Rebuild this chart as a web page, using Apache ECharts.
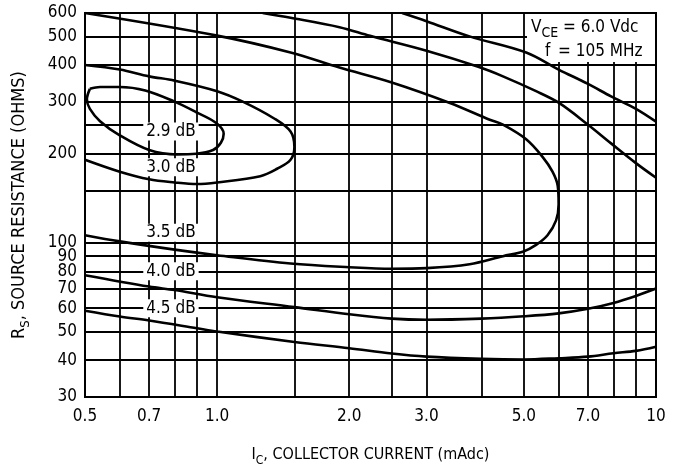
<!DOCTYPE html>
<html><head><meta charset="utf-8">
<script src="https://cdn.jsdelivr.net/npm/echarts@6/dist/echarts.min.js"></script>
<style>html,body{margin:0;padding:0;background:#fff}#c{width:674px;height:472px}</style>
</head><body><div id="c"></div>
<script>
const FONT = "'Liberation Sans Narrow','DejaVu Sans Condensed','Arial Narrow',sans-serif";

// axis ticks and grid lines
const xTicks = [0.5, 0.7, 1, 2, 3, 5, 7, 10];
const xTickLabels = ['0.5', '0.7', '1.0', '2.0', '3.0', '5.0', '7.0', '10'];
const yTicks = [30, 40, 50, 60, 70, 80, 90, 100, 200, 300, 400, 500, 600];
const yTickLabels = ['30', '40', '50', '60', '70', '80', '90', '100', '200', '300', '400', '500', '600'];
const xGrid = [0.6, 0.7, 0.8, 0.9, 1, 1.5, 2, 2.5, 3, 4, 5, 6, 7, 8, 9];
const yGrid = [40, 50, 60, 70, 80, 90, 100, 150, 200, 250, 300, 400, 500];

// noise figure contours: Ic (mAdc) vs Rs (ohms)
const c29X = [0.513, 0.541, 0.6, 0.686, 0.798, 0.895, 0.997, 1.035, 1.02, 0.979, 0.895, 0.81, 0.7, 0.6, 0.541, 0.513, 0.505, 0.513];
const c29Y = [332, 337, 337, 328, 301, 277, 254, 234, 218, 206, 200, 199, 206, 231, 258, 284, 306, 332];

const c30X = [0.5, 0.6, 0.7, 0.8, 1.0, 1.147, 1.346, 1.47, 1.5, 1.47, 1.37, 1.254, 1.0, 0.9, 0.8, 0.7, 0.6, 0.5];
const c30Y = [400, 386, 366, 354, 326, 300, 264, 238, 211, 191, 178, 168, 160, 158, 160, 164, 174, 191];

const c35X = [0.5, 1.0, 1.47, 1.9, 2.5, 3.38, 4.18, 4.48, 5.06, 5.52, 5.81, 5.97, 6.0, 5.92, 5.66, 5.33, 4.99, 4.48, 3.76, 3.0, 2.5, 2.0, 1.47, 1.0, 0.8, 0.6, 0.5];
const c35Y = [600, 503, 441, 392, 349, 298, 261, 251, 224, 195, 174, 156, 135, 119, 106, 98.3, 93.4, 90, 84.5, 82, 81.6, 82.6, 85, 90.7, 94.7, 101, 106];

const c40UpX = [1.27, 1.47, 1.9, 2.23, 3.0, 3.92, 4.48, 5.33, 6.0, 7.0, 7.9, 9.0, 10];
const c40UpY = [600, 578, 537, 502, 447, 395, 366, 326, 298, 251, 217, 186, 166];
const c40LoX = [0.5, 0.7, 0.8, 1.0, 1.5, 2.0, 2.5, 3.0, 4.0, 5.0, 6.0, 7.0, 8.0, 9.0, 10];
const c40LoY = [77.6, 71, 69.1, 65.3, 60.5, 57.2, 55.3, 54.8, 55.3, 56.3, 57.6, 59.7, 62.5, 66, 69.9];

const c45UpX = [2.64, 3.0, 3.76, 5.06, 6.0, 7.0, 7.9, 9.0, 10];
const c45UpY = [600, 563, 500, 441, 386, 345, 313, 284, 257];
const c45LoX = [0.5, 0.6, 0.7, 0.9, 1.0, 1.5, 2.0, 2.5, 3.0, 4.0, 5.0, 6.0, 7.0, 8.0, 9.0, 10];
const c45LoY = [58.8, 56.2, 54.5, 51.3, 50, 46.1, 43.9, 42.1, 41.1, 40.4, 40.2, 40.6, 41.1, 42.2, 43, 44.4];

// curve labels
const labelText = ['2.9 dB', '3.0 dB', '3.5 dB', '4.0 dB', '4.5 dB'];
const labelX = [0.785, 0.785, 0.785, 0.785, 0.785];
const labelY = [238, 180, 108, 80, 60];

const zip = (xs, ys) => xs.map((x, i) => [x, ys[i]]);
const pick = (ticks, labels) => v => {
  for (let i = 0; i < ticks.length; i++) if (Math.abs(Math.log(v / ticks[i])) < 1e-6) return labels[i];
  return '';
};

const curve = (name, xs, ys, extra) => Object.assign({
  name, type: 'line', data: zip(xs, ys), showSymbol: false, symbol: 'none',
  smooth: 0.35, clip: true, silent: true, animation: false, z: 3,
  lineStyle: { color: '#000', width: 2.6 }
}, extra || {});

const chart = echarts.init(document.getElementById('c'), null, { renderer: 'canvas' });
chart.setOption({
  backgroundColor: '#fff',
  animation: false,
  textStyle: { fontFamily: FONT },
  grid: { left: 85, right: 18, top: 13, bottom: 72, show: true, borderColor: '#000', borderWidth: 2, backgroundColor: 'transparent' },
  xAxis: {
    type: 'log', logBase: 10, min: 0.5, max: 10,
    axisLine: { show: true, lineStyle: { color: '#000', width: 2 } },
    axisTick: { show: false },
    splitLine: { show: false },
    axisLabel: { customValues: xTicks, formatter: pick(xTicks, xTickLabels), color: '#000', fontSize: 17, fontFamily: FONT, margin: 11 },
    name: '{a|I}{s|C}{a|, COLLECTOR CURRENT (mAdc)}',
    nameLocation: 'middle', nameGap: 50,
    nameTextStyle: { rich: {
      a: { fontSize: 16, fontFamily: FONT, color: '#000', lineHeight: 20, verticalAlign: 'top' },
      s: { fontSize: 12, fontFamily: FONT, color: '#000', lineHeight: 20, verticalAlign: 'bottom' }
    } }
  },
  yAxis: {
    type: 'log', logBase: 10, min: 30, max: 600,
    axisLine: { show: true, lineStyle: { color: '#000', width: 2 } },
    axisTick: { show: false },
    splitLine: { show: false },
    axisLabel: { customValues: yTicks, formatter: pick(yTicks, yTickLabels), color: '#000', fontSize: 17, fontFamily: FONT, margin: 8 },
    name: '{a|R}{s|S}{a|, SOURCE RESISTANCE (OHMS)}',
    nameLocation: 'middle', nameGap: 53, nameRotate: 90,
    nameTextStyle: { rich: {
      a: { fontSize: 18, fontFamily: FONT, color: '#000', lineHeight: 22, verticalAlign: 'top' },
      s: { fontSize: 13, fontFamily: FONT, color: '#000', lineHeight: 22, verticalAlign: 'bottom' }
    } }
  },
  series: [
    curve('grid', [], [], {
      z: 1,
      markLine: {
        silent: true, animation: false, symbol: ['none', 'none'],
        label: { show: false },
        lineStyle: { color: '#000', width: 1.8, type: 'solid' },
        emphasis: { disabled: true },
        data: xGrid.map(v => ({ xAxis: v })).concat(yGrid.map(v => ({ yAxis: v })))
      }
    }),
    curve('2.9 dB', c29X, c29Y),
    curve('3.0 dB', c30X, c30Y),
    curve('3.5 dB', c35X, c35Y),
    curve('4.0 dB upper', c40UpX, c40UpY),
    curve('4.0 dB', c40LoX, c40LoY),
    curve('4.5 dB upper', c45UpX, c45UpY),
    curve('4.5 dB', c45LoX, c45LoY),
    {
      name: 'labels', type: 'scatter', symbolSize: 0, silent: true, animation: false, z: 10,
      itemStyle: { color: '#fff', opacity: 0 },
      data: labelText.map((t, i) => ({ value: [labelX[i], labelY[i]], name: t })),
      label: {
        show: true, position: 'inside', formatter: p => p.name,
        fontSize: 17, fontFamily: FONT, color: '#000',
        textBorderWidth: 0, textBorderColor: 'transparent', opacity: 1,
        backgroundColor: '#fff', padding: [1, 3, 0, 3]
      }
    }
  ],
  graphic: [
    { type: 'rect', z: 100, shape: { x: 527, y: 14, width: 128, height: 26 }, style: { fill: '#fff' } },
    { type: 'rect', z: 100, shape: { x: 555, y: 40, width: 100, height: 22 }, style: { fill: '#fff' } },
    { type: 'text', z: 101, left: 531, top: 19, style: {
      text: '{a|V}{s|CE}{a| = 6.0 Vdc}', fill: '#000',
      rich: {
        a: { fontSize: 17, fontFamily: FONT, fill: '#000', lineHeight: 21, verticalAlign: 'top' },
        s: { fontSize: 14, fontFamily: FONT, fill: '#000', lineHeight: 21, verticalAlign: 'bottom' }
      } } },
    { type: 'text', z: 101, left: 545, top: 43, style: { text: 'f', fontSize: 17, fontFamily: FONT, fill: '#000' } },
    { type: 'text', z: 101, left: 558, top: 43, style: { text: '= 105 MHz', fontSize: 17, fontFamily: FONT, fill: '#000' } }
  ]
});
</script></body></html>
